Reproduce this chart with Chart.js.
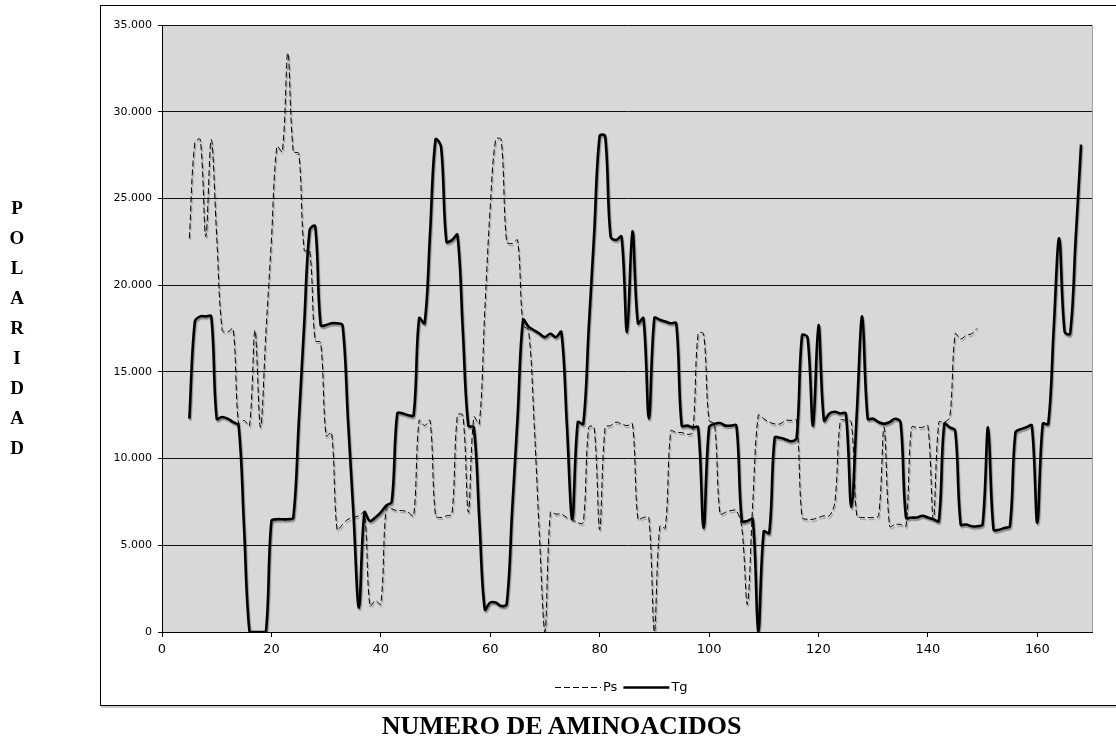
<!DOCTYPE html>
<html lang="es">
<head>
<meta charset="utf-8">
<title>Polaridad</title>
<script src="https://cdn.jsdelivr.net/npm/chart.js@4.4.1/dist/chart.umd.min.js"></script>
<style>
  body { margin: 0; background: #fff; }
  #marco { position: relative; width: 1116px; height: 740px; overflow: hidden; }
  #grafico { position: absolute; left: 0; top: 0; }
  .titulo { position: absolute; font-family: "Liberation Serif", "Times New Roman", serif; font-weight: bold; color: #000; }
  #tituloY { left: 7px; top: 193px; width: 20px; text-align: center; font-size: 19px; line-height: 30px; }
  #tituloX { left: 0; width: 1123px; top: 713px; text-align: center; font-size: 26px; line-height: 1; white-space: nowrap; }
</style>
</head>
<body>
<div id="marco">
  <canvas id="grafico" width="1116" height="740"></canvas>
  <div id="tituloY" class="titulo">P<br>O<br>L<br>A<br>R<br>I<br>D<br>A<br>D</div>
  <div id="tituloX" class="titulo">NUMERO DE AMINOACIDOS</div>
</div>
<script>
// first residue plotted; both series start here
const primerResiduo = 5;

// Ps, residues 5..149
const ps = [
  22.7, 28.2, 28.4, 22.8, 28.4, 22.8, 17.4, 17.3, 17.5, 12.0,
  12.2, 11.9, 17.4, 11.8, 17.3, 22.6, 28.0, 27.7, 33.4, 27.7,
  27.6, 22.0, 22.0, 16.8, 16.7, 11.3, 11.5, 5.9, 6.2, 6.5,
  6.6, 6.7, 6.9, 1.5, 1.8, 1.6, 7.2, 7.1, 7.0, 7.0,
  6.9, 6.7, 12.2, 11.9, 12.2, 6.7, 6.6, 6.7, 6.8, 12.5,
  12.5, 6.9, 12.4, 12.0, 18.5, 24.5, 28.4, 28.4, 22.5, 22.4,
  22.6, 17.7, 17.4, 12.2, 5.5, 0, 6.9, 6.8, 6.8, 6.6,
  6.5, 6.3, 6.3, 11.8, 11.8, 5.9, 11.8, 11.9, 12.1, 12.0,
  11.9, 12.0, 6.5, 6.6, 6.6, 0, 6.1, 6.0, 11.6, 11.5,
  11.5, 11.4, 11.5, 17.2, 17.2, 12.2, 12.0, 6.8, 6.9, 7.0,
  7.0, 6.0, 1.6, 7.5, 12.5, 12.3, 12.1, 12.0, 12.0, 12.2,
  12.2, 12.2, 6.6, 6.5, 6.5, 6.6, 6.7, 6.7, 7.5, 12.2,
  12.2, 12.1, 6.7, 6.6, 6.6, 6.6, 6.7, 11.8, 6.1, 6.2,
  6.2, 6.1, 11.8, 11.8, 11.8, 11.9, 6.5, 12.1, 12.1, 12.4,
  17.2, 16.9, 17.1, 17.2, 17.5
];

// Tg, residues 5..168
const tg = [
  12.3, 17.9, 18.2, 18.2, 18.2, 12.3, 12.4, 12.3, 12.1, 11.9,
  6.0, 0, 0, 0, 0, 6.4, 6.5, 6.5, 6.5, 6.6,
  12.1, 17.8, 23.2, 23.4, 17.7, 17.7, 17.8, 17.8, 17.7, 12.2,
  6.8, 1.4, 6.9, 6.4, 6.6, 6.9, 7.3, 7.5, 12.6, 12.6,
  12.5, 12.5, 18.1, 17.8, 23.0, 28.4, 28.0, 22.5, 22.6, 22.9,
  17.3, 11.9, 11.8, 6.5, 1.3, 1.7, 1.7, 1.5, 1.6, 7.0,
  12.4, 18.0, 17.6, 17.4, 17.2, 17.0, 17.2, 17.0, 17.3, 12.0,
  6.5, 12.1, 12.0, 17.5, 23.0, 28.6, 28.6, 22.8, 22.6, 22.8,
  17.3, 23.1, 17.8, 18.1, 12.3, 18.1, 18.0, 17.9, 17.8, 17.8,
  11.9, 11.9, 11.8, 11.8, 6.0, 11.8, 12.0, 12.05, 11.9, 11.9,
  11.9, 6.4, 6.4, 6.5, 0, 5.8, 5.7, 11.2, 11.2, 11.1,
  11.0, 11.2, 17.1, 17.0, 11.9, 17.7, 12.2, 12.6, 12.7, 12.6,
  12.6, 7.2, 12.6, 18.2, 12.3, 12.3, 12.1, 12.0, 12.1, 12.3,
  12.1, 6.6, 6.6, 6.6, 6.7, 6.6, 6.5, 6.4, 12.0, 11.8,
  11.6, 6.2, 6.2, 6.1, 6.1, 6.2, 11.8, 5.9, 5.9, 6.0,
  6.1, 11.5, 11.7, 11.8, 11.9, 6.3, 12.0, 12.0, 17.5, 22.7,
  17.3, 17.2, 22.6, 28.1
];

const ejeX = { min: 0, max: 170, paso: 20 };
const ejeY = { min: 0, max: 35, paso: 5 };

const aPuntos = serie => serie.map((v, i) => ({ x: primerResiduo + i, y: v }));

// grey plot area, outer frame
const fondo = {
  id: 'fondo',
  beforeDraw(chart) {
    const { ctx, chartArea: a } = chart;
    ctx.save();
    ctx.fillStyle = '#d8d8d8';
    ctx.fillRect(a.left, a.top, a.right - a.left, a.bottom - a.top);
    ctx.strokeStyle = '#a0a0a0';
    ctx.beginPath();
    ctx.moveTo(a.right + 0.5, a.top);
    ctx.lineTo(a.right + 0.5, a.bottom);
    ctx.stroke();
    ctx.strokeStyle = '#000';
    ctx.lineWidth = 1;
    ctx.strokeRect(100.5, 5.5, 1020, 700);
    ctx.strokeStyle = '#9a9a9a';
    ctx.beginPath();
    ctx.moveTo(101, 707);
    ctx.lineTo(1116, 707);
    ctx.stroke();
    ctx.restore();
  }
};

// excel-like drop shadow under the lines
const sombra = {
  id: 'sombra',
  beforeDatasetDraw(chart) {
    const ctx = chart.ctx;
    ctx.save();
    ctx.shadowColor = 'rgba(0,0,0,0.35)';
    ctx.shadowOffsetX = 1;
    ctx.shadowOffsetY = 2;
    ctx.shadowBlur = 1;
  },
  afterDatasetDraw(chart) {
    chart.ctx.restore();
  }
};

// legend under the axis: line sample then label, like excel
const leyenda = {
  id: 'leyenda',
  afterDraw(chart) {
    const ctx = chart.ctx;
    const y = 687.5;
    let x = 555;
    ctx.save();
    ctx.font = '13px "DejaVu Sans"';
    ctx.textBaseline = 'middle';
    ctx.fillStyle = '#000';
    chart.data.datasets.forEach(ds => {
      ctx.strokeStyle = ds.borderColor;
      ctx.lineWidth = ds.borderWidth;
      ctx.setLineDash(ds.borderDash || []);
      ctx.beginPath();
      ctx.moveTo(x, y);
      ctx.lineTo(x + 46, y);
      ctx.stroke();
      x += 48;
      ctx.fillText(ds.label, x, y);
      x += ctx.measureText(ds.label).width + 6;
    });
    ctx.restore();
  }
};

new Chart(document.getElementById('grafico'), {
  type: 'line',
  data: {
    datasets: [{
      label: 'Ps',
      data: aPuntos(ps),
      borderColor: '#000',
      borderWidth: 1,
      borderDash: [6, 3],
      pointRadius: 0,
      tension: 0.35,
      fill: false,
      order: 1
    }, {
      label: 'Tg',
      data: aPuntos(tg),
      borderColor: '#000',
      borderWidth: 2.6,
      pointRadius: 0,
      tension: 0.35,
      fill: false,
      order: 0
    }]
  },
  options: {
    responsive: false,
    animation: false,
    devicePixelRatio: 1,
    layout: { padding: { left: 101, right: 24, top: 25, bottom: 63 } },
    plugins: {
      tooltip: { enabled: false },
      legend: { display: false }
    },
    scales: {
      x: {
        type: 'linear',
        min: ejeX.min,
        max: ejeX.max,
        afterFit: s => { s.height = 45; },
        border: { color: '#000', width: 1 },
        grid: { drawOnChartArea: false, drawTicks: true, tickLength: 5, color: '#000' },
        ticks: {
          stepSize: ejeX.paso,
          includeBounds: false,
          padding: 5,
          color: '#000',
          font: { family: 'DejaVu Sans', size: 13 }
        }
      },
      y: {
        min: ejeY.min,
        max: ejeY.max,
        afterFit: s => { s.width = 61; },
        border: { color: '#000', width: 1 },
        grid: { color: '#111', lineWidth: 1, drawTicks: true, tickLength: 4 },
        ticks: {
          stepSize: ejeY.paso,
          padding: 6,
          color: '#000',
          font: { family: 'DejaVu Sans', size: 11 },
          callback: v => v === 0 ? '0' : v.toFixed(3)
        }
      }
    }
  },
  plugins: [fondo, sombra, leyenda]
});
</script>
</body>
</html>
